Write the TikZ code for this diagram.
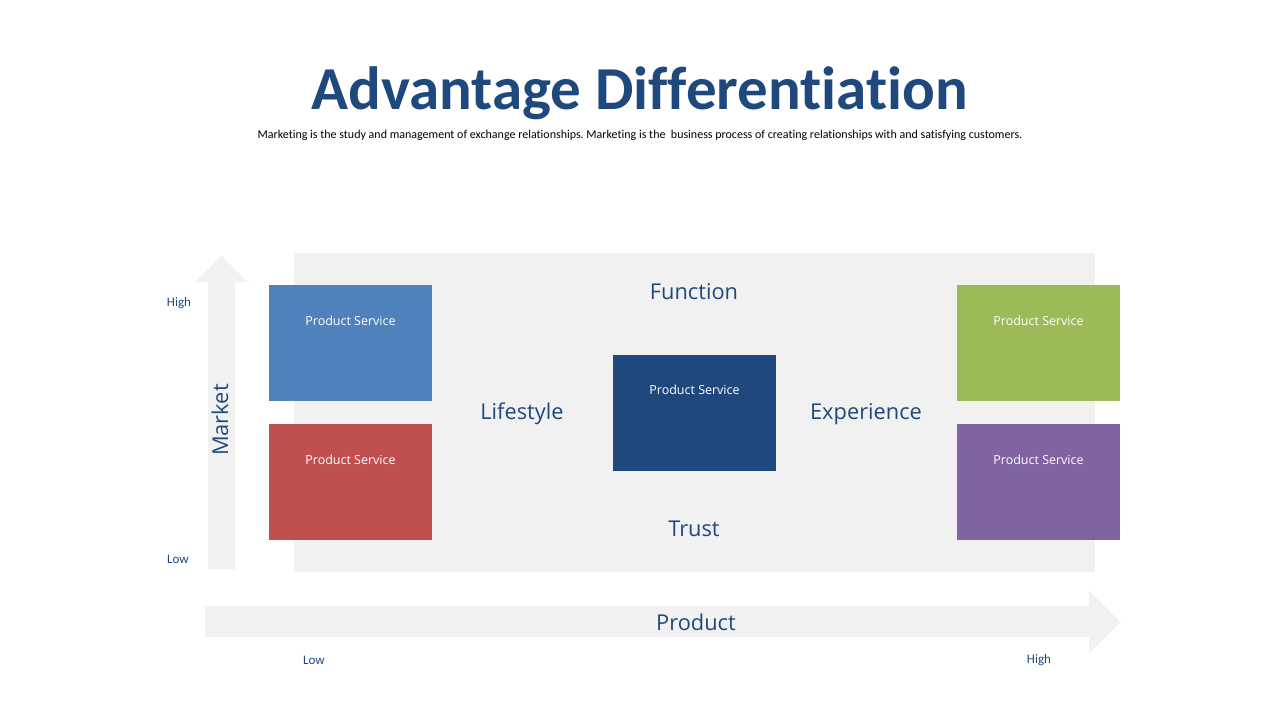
\documentclass[tikz,border=0pt]{standalone}
\usepackage{fontspec}
\setmainfont{Carlito}[Ligatures=NoCommon]
\newfontfamily\lblfont{Open Sans}
\definecolor{navy}{HTML}{1F497D}
\definecolor{panel}{HTML}{F1F1F1}
\definecolor{cblue}{HTML}{4F81BD}
\definecolor{cred}{HTML}{C0504F}
\definecolor{cgreen}{HTML}{9BBB59}
\definecolor{cpurple}{HTML}{8064A2}
\frenchspacing
\begin{document}
\begin{tikzpicture}[x=1pt,y=-1pt,
  card/.style={draw=none,minimum width=163pt,minimum height=116pt,inner sep=0pt},
  cardtxt/.style={text=white,font=\lblfont\fontsize{12.5}{14}\selectfont},
  biglbl/.style={text=navy,font=\lblfont\fontsize{21.8}{26}\selectfont},
  smalllbl/.style={text=navy,font=\fontsize{13}{15}\selectfont}]
\path[use as bounding box,fill=white] (0,0) rectangle (1280,720);
% title
\node[text=navy,font=\bfseries\fontsize{61}{70}\selectfont] (title) at (640,93) {Advantage Differentiation};
\node[text=black,font=\fontsize{12}{14}\selectfont] (sub) at (640,135) {Marketing is the study and management of exchange relationships. Marketing is the\ \ business process of creating relationships with and satisfying customers.};
% panel
\node[fill=panel,minimum width=801pt,minimum height=319pt,inner sep=0pt] (panel) at (694.5,412.5) {};
% arrows
\fill[panel] (208,569) -- (208,282) -- (195,282) -- (221.5,256) -- (248,282) -- (235,282) -- (235,569) -- cycle;
\fill[panel] (205,606) -- (1089,606) -- (1089,591) -- (1120,622) -- (1089,653) -- (1089,637) -- (205,637) -- cycle;
\node[biglbl,rotate=90] (market) at (220,420) {Market};
\node[biglbl] (product) at (696,622) {Product};
\node[smalllbl] (mhigh) at (179,303) {High};
\node[smalllbl] (mlow) at (178,559) {Low};
\node[smalllbl] (plow) at (314,660) {Low};
\node[smalllbl] (phigh) at (1039,660) {High};
% cards
\node[card,fill=cblue] (c1) at (350.5,343) {};
\node[card,fill=cred] (c2) at (350.5,482) {};
\node[card,fill=navy] (c3) at (694.5,412.5) {};
\node[card,fill=cgreen] (c4) at (1038.5,343) {};
\node[card,fill=cpurple] (c5) at (1038.5,482) {};
\node[cardtxt] (t1) at (350.5,321) {Product Service};
\node[cardtxt] (t2) at (350.5,460) {Product Service};
\node[cardtxt] (t3) at (694.5,390) {Product Service};
\node[cardtxt] (t4) at (1038.5,321) {Product Service};
\node[cardtxt] (t5) at (1038.5,460) {Product Service};
% labels
\node[biglbl] (fn) at (694,292) {Function};
\node[biglbl] (ls) at (522,414) {Lifestyle};
\node[biglbl] (ex) at (866,414) {Experience};
\node[biglbl] (tr) at (694,529) {Trust};
\end{tikzpicture}
\end{document}
